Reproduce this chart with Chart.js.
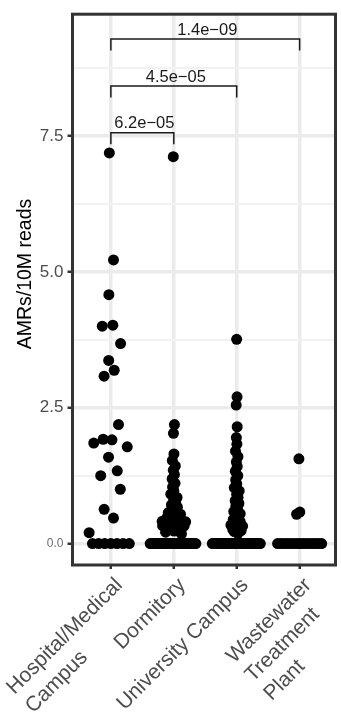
<!DOCTYPE html>
<html lang="en">
<head>
  <meta charset="UTF-8" />
  <title>AMRs per 10M reads by site</title>
  <script src="https://cdn.jsdelivr.net/npm/chart.js"></script>
  <style>
    body { margin: 0; background: #fff; }
    canvas { display: block; }
  </style>
</head>
<body>
  <canvas id="amrChart" width="341" height="721"></canvas>

  <script>
    // categories and their (multi-line) axis labels
    const categories = ['Hospital/Medical Campus', 'Dormitory', 'University Campus', 'Wastewater Treatment Plant'];
    const categoryLines = [['Hospital/Medical', 'Campus'], ['Dormitory'], ['University Campus'], ['Wastewater', 'Treatment', 'Plant']];

    // AMRs/10M reads per sample
    const hospitalValues = [7.19, 5.22, 4.58, 4.02, 4.0, 3.68, 3.37, 3.19, 3.08, 2.19, 1.92, 1.91, 1.85, 1.78,
      1.59, 1.34, 1.25, 1.0, 0.63, 0.47, 0.2, 0, 0, 0, 0, 0, 0, 0];
    const dormitoryValues = [7.12, 2.19, 2.03, 1.65, 1.53, 1.43, 1.35, 1.27, 1.19, 1.11, 1.04, 0.97, 0.91, 0.85,
      0.80, 0.75, 0.71, 0.67, 0.63, 0.60, 0.57, 0.54, 0.52, 0.50, 0.48, 0.46, 0.44, 0.42, 0.41, 0.40, 0.39,
      0.38, 0.37, 0.36, 0.35, 0.34, 0.33, 0.32, 0.31, 0.30, 0.28, 0.27, 0.25, 0.23, 0.21, 0.18,
      0, 0, 0, 0, 0, 0, 0, 0, 0, 0, 0, 0, 0, 0, 0,
      0, 0, 0, 0, 0, 0, 0, 0, 0, 0, 0, 0, 0, 0, 0];
    const universityValues = [3.76, 2.70, 2.55, 2.15, 1.95, 1.83, 1.70, 1.60, 1.50, 1.42, 1.33, 1.25, 1.17, 1.10,
      1.03, 0.97, 0.91, 0.85, 0.79, 0.74, 0.69, 0.64, 0.59, 0.55, 0.51, 0.47, 0.44, 0.41, 0.38, 0.36, 0.34,
      0.32, 0.30, 0.28, 0.26, 0.24, 0.22, 0.19,
      0, 0, 0, 0, 0, 0, 0, 0, 0, 0, 0, 0, 0, 0, 0, 0, 0, 0, 0, 0,
      0, 0, 0, 0, 0, 0, 0, 0, 0, 0, 0, 0, 0, 0, 0, 0, 0, 0, 0, 0];
    const wastewaterValues = [1.56, 0.58, 0.54, 0, 0, 0, 0, 0, 0, 0, 0, 0, 0, 0, 0, 0, 0, 0];

    // y axis ticks
    const yMajorTicks = [0, 2.5, 5, 7.5];
    const yMinorTicks = [1.25, 3.75, 6.25, 8.75];

    // pairwise comparisons (category numbers), bracket heights and p-values
    const compareFrom = [1, 1, 1];
    const compareTo = [2, 3, 4];
    const bracketHeights = [7.56, 8.42, 9.285];
    const pValueLabels = ['6.2e\u221205', '4.5e\u221205', '1.4e\u221209'];

    const FONT = "'Liberation Sans', Arial, sans-serif";

    // --- quasirandom offsets (van der Corput sequence scaled by a kernel density) ---
    function vanDerCorput(n) {
      const out = [];
      for (let i = 1; i <= n; i++) {
        let q = 0, bk = 0.5, k = i;
        while (k > 0) { q += (k % 2) * bk; k = Math.floor(k / 2); bk /= 2; }
        out.push(q);
      }
      return out;
    }

    function quantile(sorted, p) {
      const h = (sorted.length - 1) * p;
      const lo = Math.floor(h);
      if (lo + 1 >= sorted.length) return sorted[lo];
      return sorted[lo] + (h - lo) * (sorted[lo + 1] - sorted[lo]);
    }

    function bwNrd0(y) {
      const n = y.length;
      const mean = y.reduce((a, b) => a + b, 0) / n;
      const sd = Math.sqrt(y.reduce((a, b) => a + (b - mean) * (b - mean), 0) / (n - 1));
      const s = [...y].sort((a, b) => a - b);
      const iqr = quantile(s, 0.75) - quantile(s, 0.25);
      let lo = Math.min(sd, iqr / 1.34);
      if (!lo) lo = sd || Math.abs(s[0]) || 1;
      return 0.9 * lo * Math.pow(n, -0.2);
    }

    function quasirandomOffsets(y, width = 0.4, adjust = 0.5) {
      const n = y.length;
      if (n === 1) return [0];
      const bw = bwNrd0(y) * adjust;
      const dens = v => y.reduce((a, b) => a + Math.exp(-0.5 * ((v - b) / bw) ** 2), 0);
      const lo = Math.min(...y) - 3 * bw, hi = Math.max(...y) + 3 * bw;
      let maxD = 0;
      for (let i = 0; i < 1024; i++) maxD = Math.max(maxD, dens(lo + (hi - lo) * i / 1023));
      const order = y.map((v, i) => i).sort((a, b) => (y[a] - y[b]) || (a - b));
      const rank = new Array(n);
      order.forEach((idx, r) => { rank[idx] = r; });
      const seq = vanDerCorput(n);
      return y.map((v, i) => (seq[rank[i]] - 0.5) * 2 * width * dens(v) / maxD);
    }

    const groups = [hospitalValues, dormitoryValues, universityValues, wastewaterValues];

    const pointSets = groups.map((vals, g) => {
      const offs = quasirandomOffsets(vals);
      return {
        label: categories[g],
        data: vals.map((v, i) => ({ x: g + 1 + offs[i], y: v })),
        pointRadius: 5.5,
        pointHoverRadius: 5.5,
        borderWidth: 0,
        backgroundColor: '#000',
        showLine: false
      };
    });

    const bracketSets = bracketHeights.map((h, i) => ({
      label: pValueLabels[i],
      data: [
        { x: compareFrom[i], y: h - 0.21 },
        { x: compareFrom[i], y: h },
        { x: compareTo[i], y: h },
        { x: compareTo[i], y: h - 0.21 }
      ],
      showLine: true,
      pointRadius: 0,
      borderColor: '#1a1a1a',
      borderWidth: 1.5,
      fill: false
    }));

    const isMajor = v => yMajorTicks.includes(v);

    const textPlugin = {
      id: 'texts',
      afterDatasetsDraw(chart) {
        const { ctx, chartArea: a } = chart;
        ctx.save();
        ctx.strokeStyle = '#333';
        ctx.lineWidth = 3;
        ctx.strokeRect(a.left, a.top, a.right - a.left, a.bottom - a.top);
        ctx.restore();
      },
      afterDraw(chart) {
        const { ctx, chartArea: a, scales } = chart;
        const xs = scales.x, ys = scales.y;

        // p-values above brackets
        ctx.save();
        ctx.font = '16.5px ' + FONT;
        ctx.fillStyle = '#1a1a1a';
        ctx.textAlign = 'center';
        ctx.textBaseline = 'alphabetic';
        pValueLabels.forEach((t, i) => {
          const x = (xs.getPixelForValue(compareFrom[i]) + xs.getPixelForValue(compareTo[i])) / 2;
          ctx.fillText(t, x + 2, ys.getPixelForValue(bracketHeights[i]) - 4.5);
        });
        ctx.restore();

        // rotated category labels
        ctx.save();
        ctx.font = '21px ' + FONT;
        ctx.fillStyle = '#4d4d4d';
        ctx.textBaseline = 'top';
        ctx.textAlign = 'left';
        categoryLines.forEach((lines, i) => {
          const px = xs.getPixelForValue(i + 1);
          const w0 = ctx.measureText(lines[0]).width;
          ctx.save();
          ctx.translate(px + 1, a.bottom + 9.5);
          ctx.rotate(-Math.PI / 4);
          lines.forEach((ln, j) => ctx.fillText(ln, -w0, j * 26.5));
          ctx.restore();
        });
        ctx.restore();

        // y axis title
        ctx.save();
        ctx.font = '19.5px ' + FONT;
        ctx.fillStyle = '#000';
        ctx.textAlign = 'center';
        ctx.textBaseline = 'middle';
        ctx.translate(25.5, 274);
        ctx.rotate(-Math.PI / 2);
        ctx.fillText('AMRs/10M reads', 0, 0);
        ctx.restore();
      }
    };

    new Chart(document.getElementById('amrChart').getContext('2d'), {
      type: 'scatter',
      data: { datasets: [...pointSets, ...bracketSets] },
      options: {
        responsive: false,
        animation: false,
        layout: { padding: { left: 0, right: 4, top: 6.5, bottom: 0 } },
        plugins: { legend: { display: false }, tooltip: { enabled: false } },
        scales: {
          x: {
            type: 'linear',
            min: 0.39,
            max: 4.57,
            afterBuildTicks: s => { s.ticks = categories.map((c, i) => ({ value: i + 1 })); },
            afterFit: s => { s.height = 156; },
            ticks: { display: false },
            border: { display: false },
            grid: { color: '#ebebeb', lineWidth: 3.5, drawTicks: true, tickLength: 4, tickColor: '#333', tickWidth: 2.5 }
          },
          y: {
            type: 'linear',
            min: -0.394,
            max: 9.742,
            afterBuildTicks: s => { s.ticks = [...yMajorTicks, ...yMinorTicks].sort((a, b) => a - b).map(v => ({ value: v })); },
            afterFit: s => { s.width = 72.5; },
            ticks: {
              padding: 4,
              color: ctx => ctx.tick && ctx.tick.value === 0 ? '#6b6b7a' : '#4d4d4d',
              font: ctx => ({ family: FONT, size: ctx.tick && ctx.tick.value === 0 ? 12 : 17 }),
              callback: v => isMajor(v) ? v.toFixed(1) : ''
            },
            border: { display: false },
            grid: {
              color: ctx => isMajor(ctx.tick.value) ? '#ebebeb' : '#f2f2f2',
              lineWidth: ctx => isMajor(ctx.tick.value) ? 3.5 : 2,
              drawTicks: true,
              tickLength: 5,
              tickWidth: 2.5,
              tickColor: ctx => isMajor(ctx.tick.value) ? '#333' : 'rgba(0,0,0,0)'
            }
          }
        }
      },
      plugins: [textPlugin]
    });
  </script>
</body>
</html>
